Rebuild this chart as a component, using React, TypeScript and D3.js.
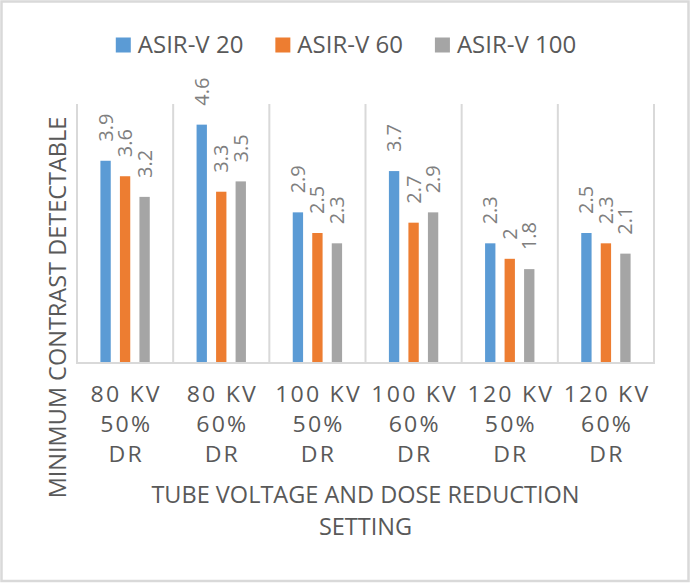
import * as d3 from "d3";
import React, { useEffect, useRef } from "react";

const categories = [
  ["80 KV", "50%", "DR"],
  ["80 KV", "60%", "DR"],
  ["100 KV", "50%", "DR"],
  ["100 KV", "60%", "DR"],
  ["120 KV", "50%", "DR"],
  ["120 KV", "60%", "DR"],
];
const seriesNames = ["ASIR-V 20", "ASIR-V 60", "ASIR-V 100"];
const asir20 = [3.9, 4.6, 2.9, 3.7, 2.3, 2.5];
const asir60 = [3.6, 3.3, 2.5, 2.7, 2.0, 2.3];
const asir100 = [3.2, 3.5, 2.3, 2.9, 1.8, 2.1];
const colors = ["#5B9BD5", "#ED7D31", "#A5A5A5"];

const W = 690;
const H = 583;
const FONT = "'Open Sans', 'Noto Sans', sans-serif";
const TEXT = "#595959";

const App: React.FC = () => {
  const ref = useRef<SVGSVGElement>(null);

  useEffect(() => {
    if (!ref.current) return;
    const svg = d3.select(ref.current);
    svg.selectAll("*").remove();

    const values = [asir20, asir60, asir100];
    const margin = { left: 77, right: W - 654, top: 104, bottom: H - 362 };

    // chart border
    svg
      .append("rect")
      .attr("x", 1.5)
      .attr("y", 1.5)
      .attr("width", W - 3)
      .attr("height", H - 3.5)
      .attr("fill", "#fff")
      .attr("stroke", "#D9D9D9")
      .attr("stroke-width", 2.5);

    const keys = categories.map((c) => c.join(" "));
    const x0 = d3
      .scaleBand()
      .domain(keys)
      .range([margin.left, W - margin.right]);
    const x1 = d3
      .scaleBand()
      .domain(seriesNames)
      .range([0, x0.bandwidth()])
      .paddingInner(0.47)
      .paddingOuter(1.2);
    const y = d3
      .scaleLinear()
      .domain([0, 5])
      .range([H - margin.bottom, margin.top]);

    // vertical separators between categories
    const edges = [...keys.map((k) => x0(k)!), x0.range()[1]];
    svg
      .append("g")
      .selectAll("line")
      .data(edges)
      .enter()
      .append("line")
      .attr("x1", (d) => d)
      .attr("x2", (d) => d)
      .attr("y1", y(5))
      .attr("y2", y(0))
      .attr("stroke", "#D9D9D9")
      .attr("stroke-width", 2);

    // baseline
    svg
      .append("line")
      .attr("x1", x0.range()[0] - 1)
      .attr("x2", x0.range()[1] + 1)
      .attr("y1", y(0) + 1)
      .attr("y2", y(0) + 1)
      .attr("stroke", "#D9D9D9")
      .attr("stroke-width", 2);

    const cells = keys.flatMap((k, i) =>
      seriesNames.map((s, j) => ({ k, s, j, v: values[j][i] }))
    );

    const g = svg.append("g");
    g.selectAll("rect")
      .data(cells)
      .enter()
      .append("rect")
      .attr("x", (d) => x0(d.k)! + x1(d.s)!)
      .attr("y", (d) => y(d.v))
      .attr("width", x1.bandwidth())
      .attr("height", (d) => y(0) - y(d.v))
      .attr("fill", (d) => colors[d.j]);

    // rotated data labels
    g.selectAll("text")
      .data(cells)
      .enter()
      .append("text")
      .attr("transform", (d) => {
        const cx = x0(d.k)! + x1(d.s)! + x1.bandwidth() / 2;
        return `translate(${cx}, ${y(d.v) - 19}) rotate(-90)`;
      })
      .attr("dy", "0.35em")
      .attr("text-anchor", "start")
      .style("font-family", FONT)
      .style("font-size", "20px")
      .style("fill", "#7F7F7F")
      .text((d) => `${d.v}`);

    // category labels (wide, letter-spaced like the original)
    const ls = 2;
    const cat = svg.append("g");
    categories.forEach((lines, i) => {
      const cx = x0(keys[i])! + x0.bandwidth() / 2;
      lines.forEach((line, li) => {
        cat
          .append("text")
          .attr("transform", `translate(${cx}, ${401.5 + li * 30}) scale(1.1, 1)`)
          .attr("dx", ls / 2)
          .attr("text-anchor", "middle")
          .style("font-family", FONT)
          .style("font-size", "21px")
          .style("letter-spacing", `${ls}px`)
          .style("fill", TEXT)
          .text(line);
      });
    });

    // axis titles
    const plotCx = (x0.range()[0] + x0.range()[1]) / 2;
    ["TUBE VOLTAGE AND DOSE REDUCTION", "SETTING"].forEach((t, i) => {
      svg
        .append("text")
        .attr("x", plotCx)
        .attr("y", 503 + i * 32)
        .attr("text-anchor", "middle")
        .style("font-family", FONT)
        .style("font-size", "23.5px")
        .style("fill", TEXT)
        .text(t);
    });
    svg
      .append("text")
      .attr("transform", `translate(66, 307.5) rotate(-90)`)
      .attr("text-anchor", "middle")
      .style("font-family", FONT)
      .style("font-size", "23.5px")
      .style("fill", TEXT)
      .text("MINIMUM CONTRAST DETECTABLE");

    // legend
    const legend = svg.append("g");
    const items = seriesNames.map((name, i) => {
      const item = legend.append("g");
      item
        .append("rect")
        .attr("width", 15)
        .attr("height", 15)
        .attr("y", 37.5)
        .attr("fill", colors[i]);
      const t = item
        .append("text")
        .attr("x", 22)
        .attr("y", 53)
        .style("font-family", FONT)
        .style("font-size", "24px")
        .style("fill", TEXT)
        .text(name);
      const w = (t.node() as SVGTextElement).getComputedTextLength();
      return { item, w: 22 + w };
    });
    const gap = 32;
    const total = d3.sum(items, (d) => d.w) + gap * (items.length - 1);
    let lx = 346 - total / 2;
    items.forEach((d) => {
      d.item.attr("transform", `translate(${lx}, 0)`);
      lx += d.w + gap;
    });
  }, []);

  return (
    <div style={{ position: "absolute", left: 0, top: 0 }}>
      <svg ref={ref} width={W} height={H} style={{ display: "block" }}></svg>
    </div>
  );
};

export default App;
